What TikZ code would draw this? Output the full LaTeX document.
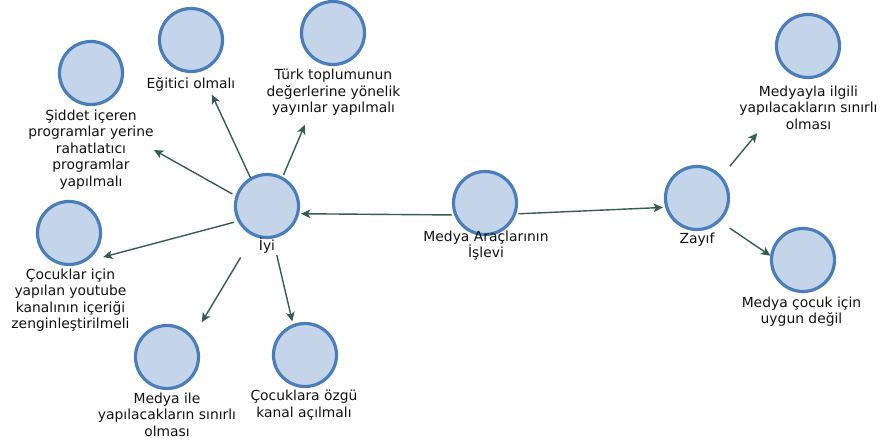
\documentclass[tikz,border=0pt]{standalone}
\usepackage{fontspec}
\setmainfont{DejaVu Sans}
\usetikzlibrary{arrows.meta,fit}
\definecolor{cfill}{HTML}{C4D5EA}
\definecolor{cline}{HTML}{4A7EBB}
\definecolor{aline}{HTML}{335C58}
\definecolor{txt}{HTML}{111111}
\tikzset{
  concept/.style={circle, draw=cline, fill=cfill, line width=2.4pt, minimum size=47.25pt, inner sep=0pt},
  lbl/.style={align=center, inner sep=0pt, text=txt, font=\fontsize{10.4pt}{12.3pt}\selectfont},
  grp/.style={inner sep=0pt},
  arr/.style={draw=aline, line width=1.05pt, -{Stealth[length=7pt, width=6.5pt, inset=1.8pt]}}
}
\begin{document}
\begin{tikzpicture}[x=0.75pt, y=-0.75pt]
\useasboundingbox (0,0) rectangle (881,441);
% concepts
\node[concept] (cM) at (485,203) {};
\node[lbl] (lM) at (486,245.5) {Medya Araçlarının\\İşlevi};
\node[concept] (cIyi) at (267,206) {};
\node[lbl] (lIyi) at (267,246) {İyi};
\node[concept] (cEg) at (191,40) {};
\node[lbl] (lEg) at (191,85) {Eğitici olmalı};
\node[concept] (cSid) at (91,73) {};
\node[lbl] (lSid) at (91,149.5) {Şiddet içeren\\programlar yerine\\rahatlatıcı\\programlar\\yapılmalı};
\node[concept] (cTurk) at (333,33) {};
\node[lbl] (lTurk) at (333.5,92.5) {Türk toplumunun\\değerlerine yönelik\\yayınlar yapılmalı};
\node[concept] (cCoc) at (69,233) {};
\node[lbl] (lCoc) at (70.5,300) {Çocuklar için\\yapılan youtube\\kanalının içeriği\\zenginleştirilmeli};
\node[concept] (cMil) at (167,357) {};
\node[lbl] (lMil) at (167,414.5) {Medya ile\\yapılacakların sınırlı\\olması};
\node[concept] (cOzg) at (305,355) {};
\node[lbl] (lOzg) at (304,405) {Çocuklara özgü\\kanal açılmalı};
\node[concept] (cZay) at (697,198) {};
\node[lbl] (lZay) at (697,240) {Zayıf};
\node[concept] (cMyl) at (808,46) {};
\node[lbl] (lMyl) at (808.5,107.5) {Medyayla ilgili\\yapılacakların sınırlı\\olması};
\node[concept] (cMuy) at (803,260) {};
\node[lbl] (lMuy) at (801.5,311.5) {Medya çocuk için\\uygun değil};
% groups
\node[grp, fit=(cM)(lM)] (gM) {};
\node[grp, fit=(cIyi)(lIyi)] (gIyi) {};
\node[grp, fit=(cEg)(lEg)] (gEg) {};
\node[grp, fit=(cSid)(lSid)] (gSid) {};
\node[grp, fit=(cTurk)(lTurk)] (gTurk) {};
\node[grp, fit=(cCoc)(lCoc)] (gCoc) {};
\node[grp, fit=(cMil)(lMil)] (gMil) {};
\node[grp, fit=(cOzg)(lOzg)] (gOzg) {};
\node[grp, fit=(cZay)(lZay)] (gZay) {};
\node[grp, fit=(cMyl)(lMyl)] (gMyl) {};
\node[grp, fit=(cMuy)(lMuy)] (gMuy) {};
% connectors
\draw[arr, shorten <=25.6pt, shorten >=25.5pt] (gM.center) -- (gIyi.center);
\draw[arr, shorten <=24.4pt, shorten >=25.6pt] (gM.center) -- (gZay.center);
\draw[arr, shorten <=29.3pt, shorten >=37.3pt] (gIyi.center) -- (gEg.center);
\draw[arr, shorten <=29.8pt, shorten >=54.2pt] (gIyi.center) -- (gSid.center);
\draw[arr, shorten <=31.5pt, shorten >=54.6pt] (gIyi.center) -- (gTurk.center);
\draw[arr, shorten <=25.5pt, shorten >=25.4pt] (gIyi.center) -- (gCoc.center);
\draw[arr, shorten <=38.4pt, shorten >=50.7pt] (gIyi.center) -- (gMil.center);
\draw[arr, shorten <=32pt, shorten >=38.2pt] (gIyi.center) -- (gOzg.center);
\draw[arr, shorten <=38.6pt, shorten >=60.3pt] (gZay.center) -- (gMyl.center);
\draw[arr, shorten <=29.6pt, shorten >=28.2pt] (gZay.center) -- (gMuy.center);
\end{tikzpicture}
\end{document}
